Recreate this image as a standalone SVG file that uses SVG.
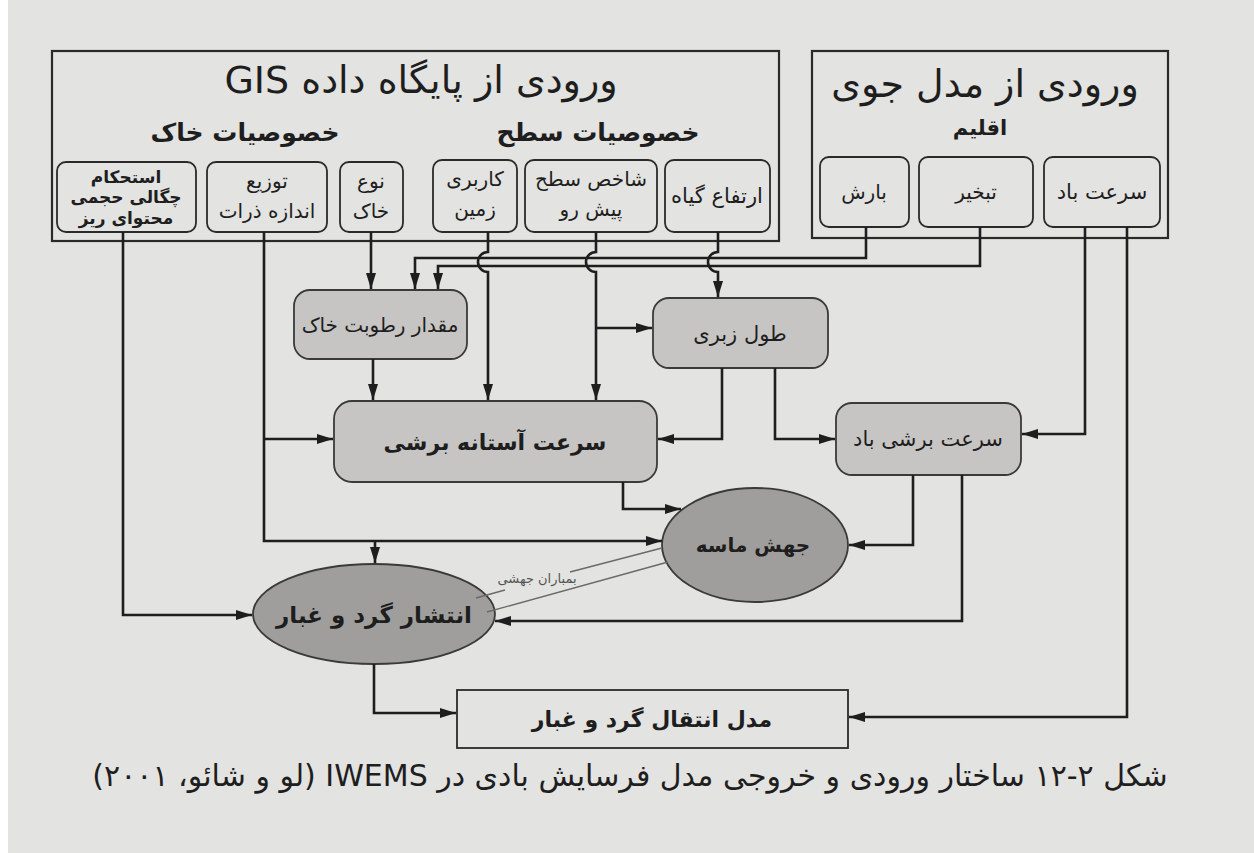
<svg xmlns="http://www.w3.org/2000/svg" width="1254" height="853" viewBox="0 0 1254 853">
<defs>
<marker id="ah" markerUnits="userSpaceOnUse" markerWidth="18" markerHeight="12" refX="16" refY="6" orient="auto">
<path d="M0,1 L16,6 L0,11 z" fill="#1e1e1e"/>
</marker>
<style>
text{font-family:"DejaVu Sans",sans-serif;fill:#1e1e1e;text-anchor:middle;direction:rtl;unicode-bidi:embed}
.frame{fill:none;stroke:#2a2a2a;stroke-width:2.2}
.inbox{fill:none;stroke:#2a2a2a;stroke-width:1.8}
.node{fill:#c6c5c3;stroke:#3a3a3a;stroke-width:1.8}
.ell{fill:#9f9e9c;stroke:#3a3a3a;stroke-width:1.8}
.ca{fill:none;stroke:#1e1e1e;stroke-width:2.6;marker-end:url(#ah)}
.thin{fill:none;stroke:#6a6a6a;stroke-width:1.4}
.t20{font-size:20px}
.t17{font-size:17px}
.b{font-weight:bold}
</style>
</defs>
<rect x="0" y="0" width="1254" height="853" fill="#ffffff"/>
<rect x="8" y="0" width="1246" height="853" fill="#e3e3e1"/>

<g id="gis-frame">
<rect class="frame" x="52" y="51" width="727" height="190"/>
<text x="421" y="93" style="font-size:38px">ورودی از پایگاه داده GIS</text>
<text x="245" y="141" class="b" style="font-size:25px">خصوصیات خاک</text>
<text x="598" y="141" class="b" style="font-size:25px">خصوصیات سطح</text>
</g>
<g id="climate-frame">
<rect class="frame" x="812" y="51" width="356" height="187"/>
<text x="985" y="97" style="font-size:38px">ورودی از مدل جوی</text>
<text x="980" y="135" class="b" style="font-size:21px">اقلیم</text>
</g>

<g id="n-estehkam">
<rect class="inbox" x="57" y="162" width="139" height="70" rx="9"/>
<text x="126" y="183" class="t17 b">استحکام</text>
<text x="126" y="203" class="t17 b">چگالی حجمی</text>
<text x="126" y="224" class="t17 b">محتوای ریز</text>
</g>
<g id="n-tozi">
<rect class="inbox" x="207" y="162" width="120" height="70" rx="9"/>
<text x="267" y="188" class="t20">توزیع</text>
<text x="267" y="218" class="t20">اندازه ذرات</text>
</g>
<g id="n-noe">
<rect class="inbox" x="340" y="162" width="63" height="70" rx="9"/>
<text x="371" y="188" class="t20">نوع</text>
<text x="371" y="218" class="t20">خاک</text>
</g>
<g id="n-karbari">
<rect class="inbox" x="433" y="160" width="84" height="72" rx="9"/>
<text x="475" y="186" class="t20">کاربری</text>
<text x="475" y="216" class="t20">زمین</text>
</g>
<g id="n-shakhes">
<rect class="inbox" x="525" y="160" width="132" height="72" rx="9"/>
<text x="591" y="186" class="t20">شاخص سطح</text>
<text x="591" y="216" class="t20">پیش رو</text>
</g>
<g id="n-ertefa">
<rect class="inbox" x="665" y="160" width="105" height="72" rx="9"/>
<text x="717" y="203" style="font-size:21px">ارتفاع گیاه</text>
</g>
<g id="n-baresh">
<rect class="inbox" x="820" y="157" width="89" height="70" rx="9"/>
<text x="864" y="199" class="t20">بارش</text>
</g>
<g id="n-tabkhir">
<rect class="inbox" x="919" y="157" width="114" height="70" rx="9"/>
<text x="976" y="199" class="t20">تبخیر</text>
</g>
<g id="n-sorat-bad">
<rect class="inbox" x="1044" y="157" width="116" height="70" rx="9"/>
<text x="1102" y="199" style="font-size:21px">سرعت باد</text>
</g>

<g id="n-rotubat">
<rect class="node" x="294" y="290" width="173" height="69" rx="16"/>
<text x="380" y="332" class="t20">مقدار رطوبت خاک</text>
</g>
<g id="n-tul-zebri">
<rect class="node" x="653" y="298" width="175" height="70" rx="16"/>
<text x="740" y="341" style="font-size:21px">طول زبری</text>
</g>
<g id="n-astane">
<rect class="node" x="334" y="401" width="323" height="81" rx="18"/>
<text x="495" y="450" class="b" style="font-size:22px">سرعت آستانه برشی</text>
</g>
<g id="n-borshi-bad">
<rect class="node" x="836" y="403" width="185" height="72" rx="16"/>
<text x="928" y="446" style="font-size:21px">سرعت برشی باد</text>
</g>
<g id="n-jahesh">
<ellipse class="ell" cx="755" cy="545" rx="93" ry="57"/>
<text x="753" y="552" class="b" style="font-size:20px">جهش ماسه</text>
</g>
<g id="n-enteshar">
<ellipse class="ell" cx="374" cy="614" rx="121" ry="50"/>
<text x="374" y="623" class="b" style="font-size:23px">انتشار گرد و غبار</text>
</g>
<g id="n-model">
<rect class="inbox" x="457" y="690" width="391" height="58"/>
<text x="652" y="727" class="b" style="font-size:22px">مدل انتقال گرد و غبار</text>
</g>

<g id="connectors">
<path class="ca" d="M123,232 V615 H252"/>
<path class="ca" d="M264,232 V541 H662"/>
<path class="ca" d="M264,439 H333"/>
<path class="ca" d="M375,541 V563"/>
<path class="ca" d="M371,232 V289"/>
<path class="ca" d="M866,227 V258 H415 V289"/>
<path class="ca" d="M980,227 V266 H438 V289"/>
<path class="ca" d="M488,232 V252 A10 10 0 0 0 488,272 V400"/>
<path class="ca" d="M596,232 V252 A10 10 0 0 0 596,272 V400"/>
<path class="ca" d="M596,328 H652"/>
<path class="ca" d="M718,232 V252 A10 10 0 0 0 718,272 V297"/>
<path class="ca" d="M373,359 V400"/>
<path class="ca" d="M722,368 V439 H658"/>
<path class="ca" d="M775,368 V439 H835"/>
<path class="ca" d="M1085,227 V434 H1022"/>
<path class="ca" d="M1127,227 V717 H849"/>
<path class="ca" d="M623,482 V509 H681"/>
<path class="ca" d="M913,475 V545 H849"/>
<path class="ca" d="M962,475 V621 H495"/>
<path class="ca" d="M374,664 V713 H456"/>
<path class="thin" d="M476,598 L505,590 M570,572 L662,548"/>
<path class="thin" d="M487,612 L668,562"/>
<text x="537" y="583" style="font-size:13px;fill:#555">بمباران جهشی</text>
</g>

<text x="630" y="786" style="font-size:30px">شکل ۲-۱۲ ساختار ورودی و خروجی مدل فرسایش بادی در IWEMS (لو و شائو، ۲۰۰۱)</text>
</svg>
